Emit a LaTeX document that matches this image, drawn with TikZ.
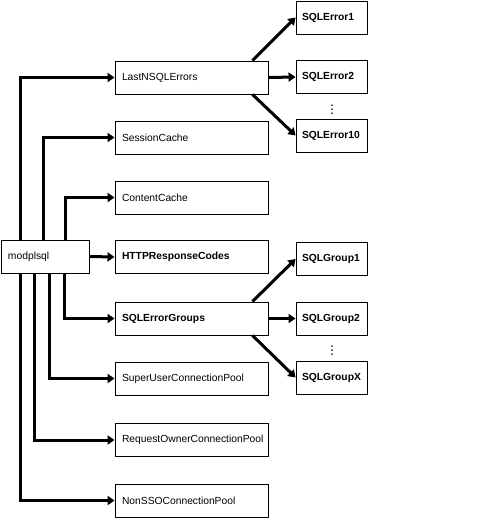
\documentclass[tikz,border=0pt]{standalone}
\usepackage{fontspec}
\setmainfont{Liberation Sans}
\usetikzlibrary{arrows.meta}

\begin{document}
\begin{tikzpicture}[x=1pt, y=-1pt, font=\fontsize{10.3}{12}\selectfont,
    box/.style={draw, line width=0.9pt, minimum height=33pt, inner xsep=7pt,
      text width=139pt, align=left},
    leaf/.style={draw, line width=0.9pt, minimum height=33pt, inner xsep=6pt,
      text width=59pt, align=left, font=\fontsize{10.3}{12}\selectfont\bfseries},
    more/.style={inner sep=0pt, font=\fontsize{14}{14}\selectfont\boldmath},
    arr/.style={line width=3pt, -{Triangle[length=7pt,width=9pt]}}]
        \useasboundingbox (0,0) rectangle (496,528);
        % Root
        \node[draw, line width=0.9pt, minimum height=33pt, inner xsep=7pt,
          text width=74pt, align=left] (mod) at (45,256.5) {modplsql};
        % Middle column
        \node[box] (lastn) at (191.5,77.5) {LastNSQLErrors};
        \node[box] (sess) at (191.5,137.5) {SessionCache};
        \node[box] (cont) at (191.5,197.5) {ContentCache};
        \node[box, font=\fontsize{10.3}{12}\selectfont\bfseries] (http) at (191.5,257) {HTTPResponseCodes};
        \node[box, font=\fontsize{10.3}{12}\selectfont\bfseries] (grps) at (191.5,318.5) {SQLErrorGroups};
        \node[box] (super) at (191.5,378.5) {SuperUserConnectionPool};
        \node[box] (reqown) at (191.5,440) {RequestOwnerConnectionPool};
        \node[box] (nonsso) at (191.5,500.5) {NonSSOConnectionPool};
        % Right column - errors
        \node[leaf] (err1) at (331.5,17.5) {SQLError1};
        \node[leaf] (err2) at (331.5,77) {SQLError2};
        \node[leaf] (err10) at (331.5,135.5) {SQLError10};
        \node[more] (errdots) at (332,107) {$\vdots$};
        % Right column - groups
        \node[more] (grpdots) at (332,348) {$\vdots$};
        \node[leaf] (grp1) at (331.5,259) {SQLGroup1};
        \node[leaf] (grp2) at (331.5,318.5) {SQLGroup2};
        \node[leaf] (grpx) at (331.5,377.5) {SQLGroupX};
        % Root connectors, upwards
        \draw[arr] ([xshift=20pt]mod.north west) |- (lastn.west);
        \draw[arr] ([xshift=43pt]mod.north west) |- (sess.west);
        \draw[arr] ([xshift=65pt]mod.north west) |- (cont.west);
        \draw[arr] (mod.east) -- (http.west);
        % Root connectors, downwards
        \draw[arr] ([xshift=64pt]mod.south west) |- (grps.west);
        \draw[arr] ([xshift=49pt]mod.south west) |- (super.west);
        \draw[arr] ([xshift=34pt]mod.south west) |- (reqown.west);
        \draw[arr] ([xshift=20pt]mod.south west) |- (nonsso.west);
        % Fan-out
        \draw[arr] ([xshift=-16pt]lastn.north east) -- (err1.west);
        \draw[arr] (lastn.east) -- (err2.west);
        \draw[arr] ([xshift=-16pt]lastn.south east) -- (err10.west);
        \draw[arr] ([xshift=-16pt]grps.north east) -- (grp1.west);
        \draw[arr] (grps.east) -- (grp2.west);
        \draw[arr] ([xshift=-16pt]grps.south east) -- (grpx.west);
      \end{tikzpicture}
\end{document}
